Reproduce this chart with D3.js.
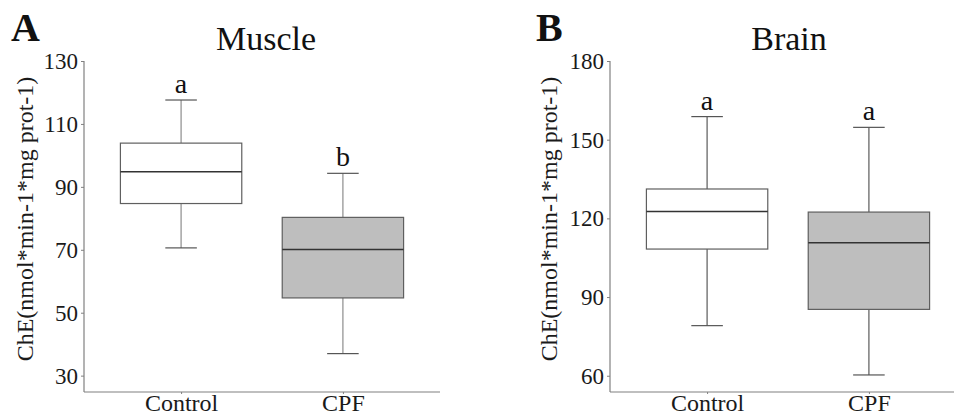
<!DOCTYPE html>
<html>
<head>
<meta charset="utf-8">
<script src="https://cdn.jsdelivr.net/npm/d3@7"></script>
<style>
  html, body { margin: 0; padding: 0; background: #fff; }
  svg { display: block; font-family: "Liberation Serif", "DejaVu Serif", serif; }
</style>
</head>
<body>
<svg id="chart" width="954" height="415"></svg>
<script>
// ---- data ----
const categories = ["Control", "CPF"];
const fills = ["#ffffff", "#bebebe"];

const muscleMin    = [70.6, 37.0];
const muscleQ1     = [84.7, 54.7];
const muscleMedian = [94.8, 70.1];
const muscleQ3     = [103.9, 80.3];
const muscleMax    = [117.6, 94.3];
const muscleLetters = ["a", "b"];
const muscleTicks  = [30, 50, 70, 90, 110, 130];

const brainMin    = [79.1, 60.3];
const brainQ1     = [108.3, 85.3];
const brainMedian = [122.6, 110.7];
const brainQ3     = [131.2, 122.4];
const brainMax    = [158.8, 154.7];
const brainLetters = ["a", "a"];
const brainTicks  = [60, 90, 120, 150, 180];

const yTitle = "ChE(nmol*min-1*mg prot-1)";

const svg = d3.select("#chart");

function panel(opt) {
  const g = svg.append("g");
  const x = d3.scalePoint().domain(categories).range([opt.left, opt.left + 356]).padding(0.6);
  const step = x.step();
  const y = d3.scaleLinear().domain(opt.domain).range([392, 61]);

  const rows = categories.map((c, i) => ({
    c, i, min: opt.min[i], q1: opt.q1[i], med: opt.med[i], q3: opt.q3[i], max: opt.max[i], letter: opt.letters[i]
  }));

  // y axis
  const ya = g.append("g").attr("transform", `translate(${opt.left},0)`)
    .call(d3.axisLeft(y).tickValues(opt.ticks).tickSize(3).tickPadding(3).tickFormat(d3.format("d")));
  ya.attr("font-family", "Liberation Serif").attr("font-size", 23);
  ya.select(".domain").attr("d", `M0,392V61`).attr("stroke", "#808080").attr("stroke-width", 1.2);
  ya.selectAll(".tick line").attr("stroke", "#808080");
  ya.selectAll(".tick text").attr("font-size", 23).attr("fill", "#1a1a1a");

  // x axis
  const xa = g.append("g").attr("transform", `translate(0,392)`)
    .call(d3.axisBottom(x).tickSize(2).tickPadding(3));
  xa.attr("font-family", "Liberation Serif").attr("font-size", 24);
  xa.select(".domain").attr("d", `M${opt.left},0H${opt.left + 356}`).attr("stroke", "#808080").attr("stroke-width", 1.2);
  xa.selectAll(".tick line").attr("stroke", "#808080");
  xa.selectAll(".tick text").attr("font-size", 24).attr("fill", "#1a1a1a").attr("dy", "0.58em");

  const boxW = step * 0.75, capW = step * 0.195;

  const b = g.selectAll(".box").data(rows).join("g");
  // whiskers
  b.append("line").attr("x1", d => x(d.c)).attr("x2", d => x(d.c))
    .attr("y1", d => y(d.q3)).attr("y2", d => y(d.max)).attr("stroke", opt.whisker).attr("stroke-width", 1.2);
  b.append("line").attr("x1", d => x(d.c)).attr("x2", d => x(d.c))
    .attr("y1", d => y(d.q1)).attr("y2", d => y(d.min)).attr("stroke", opt.whisker).attr("stroke-width", 1.2);
  b.append("line").attr("x1", d => x(d.c) - capW / 2).attr("x2", d => x(d.c) + capW / 2)
    .attr("y1", d => y(d.max)).attr("y2", d => y(d.max)).attr("stroke", opt.cap).attr("stroke-width", 1.2);
  b.append("line").attr("x1", d => x(d.c) - capW / 2).attr("x2", d => x(d.c) + capW / 2)
    .attr("y1", d => y(d.min)).attr("y2", d => y(d.min)).attr("stroke", opt.cap).attr("stroke-width", 1.2);
  // box
  b.append("rect").attr("x", d => x(d.c) - boxW / 2).attr("width", boxW)
    .attr("y", d => y(d.q3)).attr("height", d => y(d.q1) - y(d.q3))
    .attr("fill", d => fills[d.i]).attr("stroke", "#5f5f5f").attr("stroke-width", 1.2);
  b.append("line").attr("x1", d => x(d.c) - boxW / 2).attr("x2", d => x(d.c) + boxW / 2)
    .attr("y1", d => y(d.med)).attr("y2", d => y(d.med)).attr("stroke", "#333").attr("stroke-width", 1.6);
  // letters
  b.append("text").attr("x", d => x(d.c)).attr("y", d => y(d.max) - 7)
    .attr("text-anchor", "middle").attr("font-size", 28).attr("fill", "#111").text(d => d.letter);

  // titles
  g.append("text").attr("x", opt.titleX).attr("y", 50).attr("text-anchor", "middle")
    .attr("font-size", 34).attr("fill", "#111").text(opt.title);
  g.append("text").attr("x", opt.tagX).attr("y", 41).attr("font-size", 40).attr("font-weight", "bold")
    .attr("fill", "#111").text(opt.tag);
  g.append("text").attr("transform", `translate(${opt.yTitleX},219) rotate(-90)`)
    .attr("text-anchor", "middle").attr("font-size", 24).attr("fill", "#1a1a1a").text(yTitle);
}

panel({
  left: 84, domain: [24.8, 130], ticks: muscleTicks,
  min: muscleMin, q1: muscleQ1, med: muscleMedian, q3: muscleQ3, max: muscleMax, letters: muscleLetters,
  whisker: "#8c8c8c", cap: "#555", title: "Muscle", titleX: 266, tag: "A", tagX: 11, yTitleX: 33
});
panel({
  left: 610, domain: [53.8, 180], ticks: brainTicks,
  min: brainMin, q1: brainQ1, med: brainMedian, q3: brainQ3, max: brainMax, letters: brainLetters,
  whisker: "#5a5a5a", cap: "#555", title: "Brain", titleX: 789, tag: "B", tagX: 536, yTitleX: 557
});
</script>
</body>
</html>
